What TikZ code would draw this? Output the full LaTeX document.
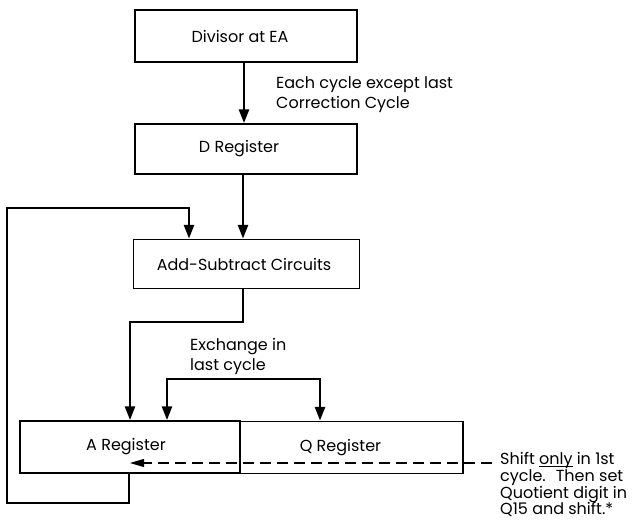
\documentclass[tikz,border=0pt]{standalone}
\usepackage{fontspec}
\setmainfont{Poppins}
\usetikzlibrary{arrows.meta}
\newcommand\ulonly[1]{\leavevmode\setbox0\hbox{#1}\rlap{\rule[-2pt]{\wd0}{0.9pt}}\box0\relax}
\begin{document}
\begin{tikzpicture}[x=1pt,y=-1pt,
  box/.style={draw,line width=1.5pt,minimum height=50pt,inner sep=0pt,font=\fontsize{16}{19}\selectfont},
  flow/.style={line width=2.8pt,-{Triangle[length=14pt,width=10pt]}},
  flowboth/.style={line width=2.8pt,{Triangle[length=14pt,width=10pt]}-{Triangle[length=14pt,width=10pt]}},
  shiftline/.style={line width=1.1pt,dash pattern=on 11pt off 6pt,-{Triangle[length=14pt,width=8pt]}},
  lbl/.style={align=left,inner sep=0pt,font=\fontsize{16}{20}\selectfont}]
\useasboundingbox (0,0) rectangle (643,531);
\node[box,minimum width=222pt,minimum height=52pt] (div) at (246,36) {\hspace*{-12pt}\raisebox{-2pt}{Divisor at EA}};
\node[box,minimum width=222pt] (dreg) at (246,149) {\hspace*{-14pt}\raisebox{-1pt}{D Register}};
\node[box,minimum width=226pt,minimum height=49pt] (add) at (246.5,264) {\hspace*{-5pt}\raisebox{-2pt}{Add-Subtract Circuits}};
\node[box,minimum width=220pt,minimum height=52pt] (areg) at (130,447) {\hspace*{-8pt}\raisebox{4pt}{A Register}};
\node[box,minimum width=223pt,minimum height=52pt] (qreg) at (351.5,447.5) {\hspace*{-22pt}\raisebox{4pt}{Q Register}};

\draw[flow] (div.south -| 244,0) -- (dreg.north -| 244,0);
\draw[flow] (dreg.south -| 243,0) -- (add.north -| 243,0);
\node[lbl,anchor=north west] (lab1) at (276,76) {Each cycle except last\\Correction Cycle};

% feedback loop
\coordinate (fb1) at (129,503);
\coordinate (fb2) at (7,503);
\coordinate (fb3) at (7,208);
\coordinate (fb4) at (189,208);
\draw[flow] (areg.south -| fb1) -- (fb1) -- (fb2) -- (fb3) -- (fb4) -- (add.north -| fb4);

% add-sub to A register
\coordinate (as1) at (243,322);
\coordinate (as2) at (130,322);
\draw[flow] (add.south -| as1) -- (as1) -- (as2) -- (areg.north -| as2);

% exchange
\coordinate (ex1) at (167,379);
\coordinate (ex2) at (320,379);
\draw[flowboth] (areg.north -| ex1) -- (ex1) -- (ex2) -- (qreg.north -| ex2);
\node[lbl,anchor=north west] (lab2) at (190,338) {Exchange in\\last cycle};

% shift
\coordinate (sh1) at (492,463);
\coordinate (sh2) at (130,463);
\draw[shiftline] (sh1) -- (sh2);
\node[lbl,anchor=north west,font=\fontsize{16}{16.8}\selectfont] (lab3) at (500,452) {Shift \ulonly{only} in 1st\\cycle.~ Then set\\Quotient digit in\\Q15 and shift.*};
\end{tikzpicture}
\end{document}
